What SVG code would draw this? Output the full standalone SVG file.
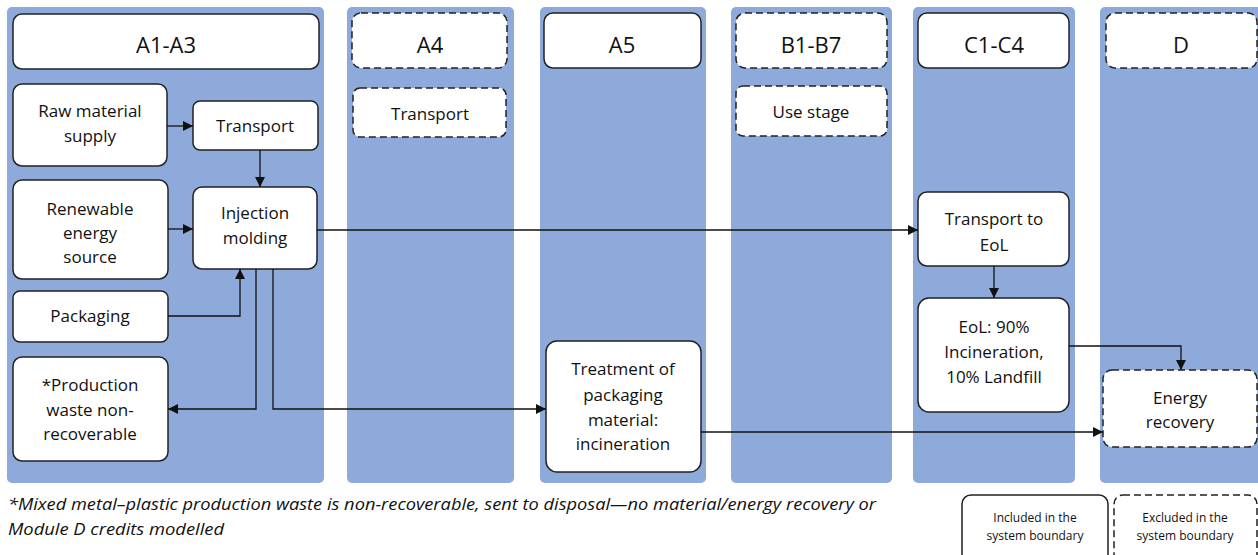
<svg xmlns="http://www.w3.org/2000/svg" width="1258" height="555" viewBox="0 0 1258 555">
<style>
.band{fill:#8eaadb;}
.box{fill:#fff;stroke:#222;stroke-width:1.5;}
.dash{stroke-dasharray:7 4;}
.hdr{font-family:"Open Sans","Noto Sans",sans-serif;font-size:22px;fill:#111;text-anchor:middle;}
.t{font-family:"Open Sans","Noto Sans",sans-serif;font-size:17px;fill:#111;text-anchor:middle;}
.lg{font-family:"Open Sans","Noto Sans",sans-serif;font-size:12px;fill:#111;text-anchor:middle;}
.fn{font-family:"Open Sans","Noto Sans",sans-serif;font-size:16px;font-style:italic;fill:#111;}
.c{fill:none;stroke:#111;stroke-width:1.3;}
</style>
<defs>
<marker id="ah" viewBox="0 0 10 10" refX="10" refY="5" markerWidth="10" markerHeight="10" markerUnits="userSpaceOnUse" orient="auto">
<path d="M0,0 L10,5 L0,10 z" fill="#111"/>
</marker>
</defs>
<rect width="1258" height="555" fill="#fff"/>
<g id="bands">
<rect class="band" x="7" y="7" width="317" height="476" rx="5"/>
<rect class="band" x="347" y="7" width="167" height="476" rx="5"/>
<rect class="band" x="540" y="7" width="166" height="476" rx="5"/>
<rect class="band" x="731" y="7" width="161" height="476" rx="5"/>
<rect class="band" x="913" y="7" width="162" height="476" rx="5"/>
<rect class="band" x="1100" y="7" width="165" height="476" rx="5"/>
</g>
<g id="hdr-a1a3"><rect class="box" x="13" y="14" width="306" height="55" rx="9"/><text class="hdr" x="166" y="53">A1-A3</text></g>
<g id="hdr-a4"><rect class="box dash" x="352" y="13" width="155" height="55" rx="9"/><text class="hdr" x="430" y="53">A4</text></g>
<g id="hdr-a5"><rect class="box" x="544" y="13" width="157" height="55" rx="9"/><text class="hdr" x="622" y="53">A5</text></g>
<g id="hdr-b"><rect class="box dash" x="736" y="13" width="151" height="55" rx="9"/><text class="hdr" x="811" y="53">B1-B7</text></g>
<g id="hdr-c"><rect class="box" x="918" y="13" width="151" height="55" rx="9"/><text class="hdr" x="994" y="53">C1-C4</text></g>
<g id="hdr-d"><rect class="box dash" x="1106" y="13" width="151" height="55" rx="9"/><text class="hdr" x="1181" y="53">D</text></g>
<g id="raw"><rect class="box" x="13" y="84" width="154" height="82" rx="9"/><text class="t" x="90" y="117">Raw material</text><text class="t" x="90" y="142">supply</text></g>
<g id="transport"><rect class="box" x="193" y="101" width="125" height="49" rx="7"/><text class="t" x="255" y="132">Transport</text></g>
<g id="renew"><rect class="box" x="13" y="180" width="155" height="99" rx="9"/><text class="t" x="90" y="215">Renewable</text><text class="t" x="90" y="239">energy</text><text class="t" x="90" y="263">source</text></g>
<g id="inj"><rect class="box" x="193" y="187" width="124" height="82" rx="9"/><text class="t" x="255" y="219">Injection</text><text class="t" x="255" y="244">molding</text></g>
<g id="pack"><rect class="box" x="13" y="291" width="155" height="51" rx="7"/><text class="t" x="90" y="322">Packaging</text></g>
<g id="waste"><rect class="box" x="13" y="357" width="155" height="104" rx="9"/><text class="t" x="90" y="391">*Production</text><text class="t" x="90" y="416">waste non-</text><text class="t" x="90" y="440">recoverable</text></g>
<g id="a4-transport"><rect class="box dash" x="353" y="88" width="153" height="49" rx="7"/><text class="t" x="430" y="120">Transport</text></g>
<g id="use"><rect class="box dash" x="736" y="86" width="151" height="50" rx="7"/><text class="t" x="811" y="118">Use stage</text></g>
<g id="treat"><rect class="box" x="546" y="341" width="155" height="131" rx="11"/><text class="t" x="623" y="375">Treatment of</text><text class="t" x="623" y="401">packaging</text><text class="t" x="623" y="426">material:</text><text class="t" x="623" y="450">incineration</text></g>
<g id="teol"><rect class="box" x="918" y="192" width="151" height="74" rx="9"/><text class="t" x="994" y="225">Transport to</text><text class="t" x="994" y="251">EoL</text></g>
<g id="eol"><rect class="box" x="918" y="298" width="151" height="114" rx="11"/><text class="t" x="994" y="333">EoL: 90%</text><text class="t" x="994" y="358">Incineration,</text><text class="t" x="994" y="383">10% Landfill</text></g>
<g id="energy"><rect class="box dash" x="1103" y="370" width="154" height="77" rx="9"/><text class="t" x="1180" y="404">Energy</text><text class="t" x="1180" y="428">recovery</text></g>
<g id="connectors">
<path class="c" d="M167,126 H193" marker-end="url(#ah)"/>
<path class="c" d="M260,150 V187" marker-end="url(#ah)"/>
<path class="c" d="M168,229 H193" marker-end="url(#ah)"/>
<path class="c" d="M168,316 H240 V269" marker-end="url(#ah)"/>
<path class="c" d="M256,269 V409 H168" marker-end="url(#ah)"/>
<path class="c" d="M273,269 V409 H546" marker-end="url(#ah)"/>
<path class="c" d="M317,230 H918" marker-end="url(#ah)"/>
<path class="c" d="M994,266 V298" marker-end="url(#ah)"/>
<path class="c" d="M1069,346 H1181 V370" marker-end="url(#ah)"/>
<path class="c" d="M701,432 H1103" marker-end="url(#ah)"/>
</g>
<g id="footnote">
<text class="fn" x="8" y="510" textLength="868" lengthAdjust="spacingAndGlyphs">*Mixed metal–plastic production waste is non-recoverable, sent to disposal—no material/energy recovery or</text>
<text class="fn" x="8" y="535" textLength="216" lengthAdjust="spacingAndGlyphs">Module D credits modelled</text>
</g>
<g id="legend-included"><rect class="box" x="962" y="495" width="146" height="70" rx="9"/><text class="lg" x="1035" y="522">Included in the</text><text class="lg" x="1035" y="540">system boundary</text></g>
<g id="legend-excluded"><rect class="box dash" x="1114" y="495" width="143" height="70" rx="9"/><text class="lg" x="1185" y="522">Excluded in the</text><text class="lg" x="1185" y="540">system boundary</text></g>
</svg>
